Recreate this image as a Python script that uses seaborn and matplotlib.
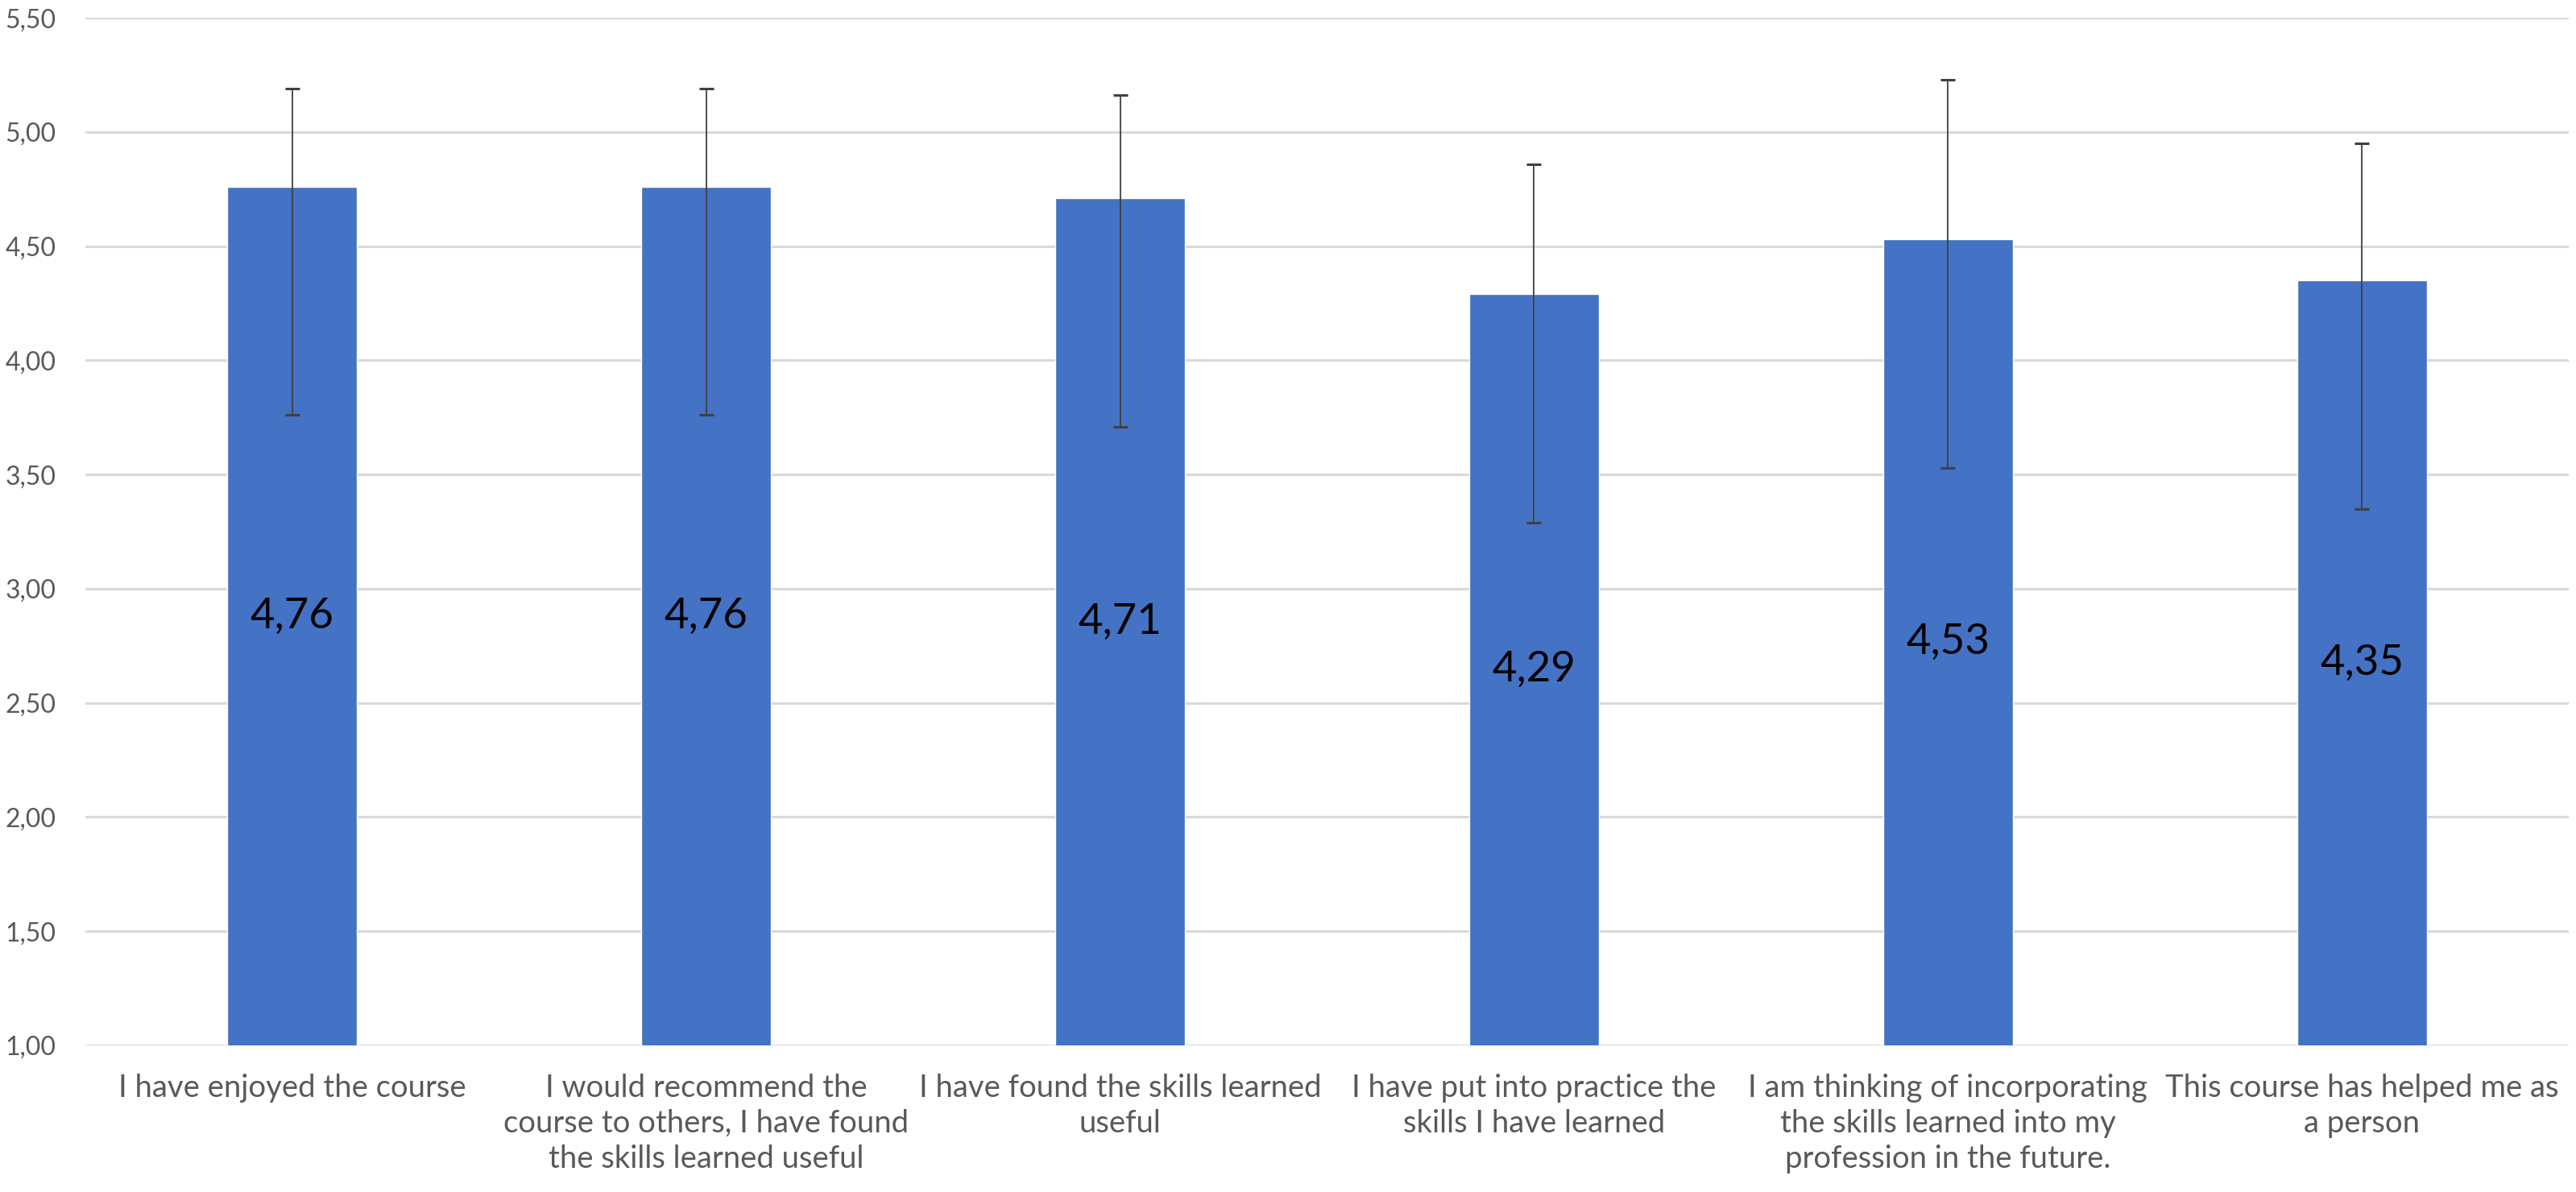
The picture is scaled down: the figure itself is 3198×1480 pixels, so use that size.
import matplotlib
matplotlib.use("Agg")
import matplotlib.pyplot as plt
import seaborn as sns
import pandas as pd
from matplotlib.ticker import FuncFormatter

# === DATA ===
categories = [
    "I have enjoyed the course",
    "I would recommend the\ncourse to others, I have found\nthe skills learned useful",
    "I have found the skills learned\nuseful",
    "I have put into practice the\nskills I have learned",
    "I am thinking of incorporating\nthe skills learned into my\nprofession in the future.",
    "This course has helped me as\na person",
]
means = [4.76, 4.76, 4.71, 4.29, 4.53, 4.35]
err_low = [1.00, 1.00, 1.00, 1.00, 1.00, 1.00]
err_high = [0.43, 0.43, 0.45, 0.57, 0.70, 0.60]
y_ticks = [1.00, 1.50, 2.00, 2.50, 3.00, 3.50, 4.00, 4.50, 5.00, 5.50]

BAR_COLOR = "#4472C4"
GRID_COLOR = "#D9D9D9"
TEXT_COLOR = "#595959"

sns.set_theme(style="white")
plt.rcParams["font.family"] = ["Lato", "DejaVu Sans"]


def comma(v, pos=None):
    return f"{v:.2f}".replace(".", ",")


def plot_chart():
    df = pd.DataFrame({"item": categories, "mean": means})

    fig = plt.figure(figsize=(31.98, 14.80), dpi=100)
    ax = fig.add_axes([0.0331, 0.1230, 0.9641, 0.8621])

    sns.barplot(data=df, x="item", y="mean", color=BAR_COLOR, saturation=1,
                width=0.313, errorbar=None, ax=ax, zorder=2)

    ax.errorbar(range(len(means)), means, yerr=[err_low, err_high], fmt="none",
                ecolor="#404040", elinewidth=1.3, capsize=6.5, capthick=2.2, zorder=3)

    ax.set_ylim(y_ticks[0], y_ticks[-1])
    ax.set_xlim(-0.5, len(means) - 0.5)
    ax.set_yticks(y_ticks)
    ax.yaxis.set_major_formatter(FuncFormatter(comma))
    ax.grid(axis="y", color=GRID_COLOR, linewidth=2.2, zorder=0)
    ax.set_axisbelow(True)
    for s in ax.spines.values():
        s.set_visible(False)

    ymin = ax.get_ylim()[0]
    for p, v in zip(ax.patches, means):
        ax.text(p.get_x() + p.get_width() / 2, (ymin + p.get_height()) / 2, comma(v),
                ha="center", va="center", fontsize=38, color="black", zorder=4)

    ax.tick_params(axis="y", length=0, pad=26, labelsize=23, labelcolor=TEXT_COLOR)
    ax.tick_params(axis="x", length=0, pad=25, labelsize=27.5, labelcolor=TEXT_COLOR)
    for lab in ax.get_xticklabels():
        lab.set_linespacing(1.28)
        lab.set_verticalalignment("top")
    ax.set_xlabel("")
    ax.set_ylabel("")

    fig.savefig("out.png", dpi=100, facecolor="white")
    plt.close(fig)


if __name__ == "__main__":
    plot_chart()
